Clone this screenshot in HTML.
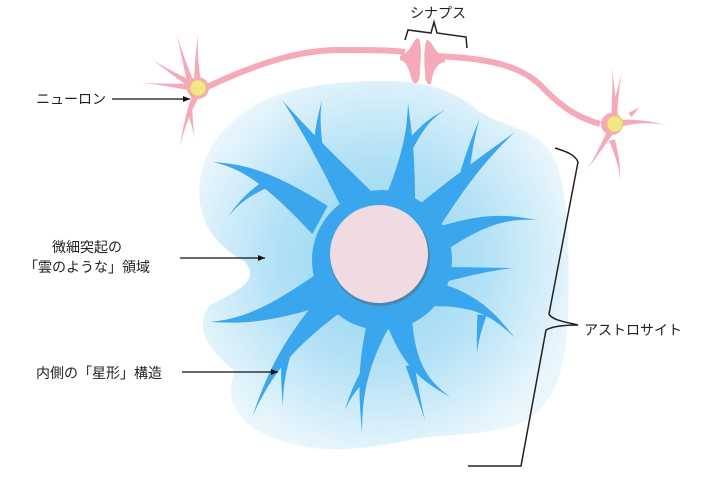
<!DOCTYPE html>
<html><head><meta charset="utf-8"><style>
html,body{margin:0;padding:0;background:#fff;}
svg{display:block;}
text{font-family:"Liberation Sans","Noto Sans CJK JP",sans-serif;font-size:14px;fill:#222;}
</style></head><body>
<svg id="s" width="718" height="479" viewBox="0 0 718 479" xmlns="http://www.w3.org/2000/svg">
<defs>
<radialGradient id="cg" cx="380" cy="260" r="200" gradientUnits="userSpaceOnUse">
<stop offset="0" stop-color="#8fd3f2"/><stop offset="0.55" stop-color="#b5e2f6"/><stop offset="1" stop-color="#e9f6fc"/></radialGradient>
<marker id="ar" markerWidth="8" markerHeight="8" refX="7" refY="4" orient="auto" markerUnits="userSpaceOnUse"><path d="M0,1 L7,4 L0,7 Z" fill="#111"/></marker>
</defs>
<path d="M245,112 C275,88 340,78 410,82 C440,86 460,95 480,112 C510,130 540,128 555,160 C568,190 570,250 568,320 C565,370 555,400 530,418 C495,438 450,432 410,440 C370,448 320,456 280,440 C240,428 222,400 235,372 C210,350 192,330 210,305 C240,290 260,280 245,262 C215,245 195,220 200,180 C205,150 220,130 245,112 Z" fill="url(#cg)"/>
<g id="astro" fill="#3aa6ee"></g>
<circle cx="380" cy="256" r="50" fill="#5a6b78" opacity="0.55"/>
<circle cx="379" cy="254" r="49" fill="#f1dbe3"/>
<g id="neu" fill="#f5a9b9"></g>
<circle cx="198" cy="88" r="8" fill="#f4e58a" stroke="#e8c96a"/>
<circle cx="615" cy="124" r="8" fill="#f4e58a" stroke="#e8c96a"/>
<path d="M405,40 L408,30 L431,33 L434,22 L437,33 L466,37 L467,48" fill="none" stroke="#222" stroke-width="1.5"/>
<text x="410" y="18">シナプス</text>
<path d="M555,148 C568,152 575,155 578,162 L549,314 C552,320 565,322 578,325 C565,325 553,326 546,330 L521,466 L468,466" fill="none" stroke="#222" stroke-width="1.5"/>
<text x="584" y="335">アストロサイト</text>
<text x="36" y="104">ニューロン</text>
<line x1="112" y1="99" x2="190" y2="99" stroke="#111" stroke-width="1.3" marker-end="url(#ar)"/>
<text x="52" y="252">微細突起の</text>
<text x="24" y="272">「雲のような」領域</text>
<line x1="180" y1="258" x2="265" y2="258" stroke="#111" stroke-width="1.3" marker-end="url(#ar)"/>
<text x="36" y="378">内側の「星形」構造</text>
<line x1="182" y1="372" x2="278" y2="372" stroke="#111" stroke-width="1.3" marker-end="url(#ar)"/>
</svg>
<script>
function br(g,a,c,t,w){
 var dx=t[0]-a[0],dy=t[1]-a[1],L=Math.hypot(dx,dy),nx=-dy/L*w/2,ny=dx/L*w/2;
 var m=[(c[0]+t[0])/2,(c[1]+t[1])/2];
 var d="M"+(a[0]+nx)+","+(a[1]+ny)+" C"+(c[0]+nx*0.35)+","+(c[1]+ny*0.35)+" "+(m[0]+nx*0.12)+","+(m[1]+ny*0.12)+" "+t[0]+","+t[1]+" C"+(m[0]-nx*0.12)+","+(m[1]-ny*0.12)+" "+(c[0]-nx*0.35)+","+(c[1]-ny*0.35)+" "+(a[0]-nx)+","+(a[1]-ny)+" Z";
 var p=document.createElementNS("http://www.w3.org/2000/svg","path");p.setAttribute("d",d);g.appendChild(p);}
var A=document.getElementById("astro");
var body=document.createElementNS("http://www.w3.org/2000/svg","ellipse");
body.setAttribute("cx",382);body.setAttribute("cy",260);body.setAttribute("rx",70);body.setAttribute("ry",70);A.appendChild(body);
[[[360,205],[320,150],[282,100],36],[[318,145],[318,120],[322,100],9],
[[400,200],[410,150],[408,103],30],[[410,145],[425,122],[445,110],9],
[[430,215],[470,170],[515,132],30],[[465,172],[472,140],[480,118],9],
[[320,220],[260,170],[213,162],32],[[270,182],[245,195],[228,217],9],
[[440,240],[490,215],[537,220],26],[[440,275],[480,270],[513,268],16],
[[435,295],[480,300],[515,338],26],[[482,315],[478,335],[477,353],9],
[[400,320],[410,370],[450,397],28],[[410,365],[418,395],[425,420],9],
[[380,320],[360,370],[362,433],24],[[364,375],[352,392],[345,410],9],
[[320,290],[260,320],[210,322],32],
[[335,300],[280,350],[252,417],28],[[286,355],[282,380],[283,407],9]
].forEach(function(b){br(A,b[0],b[1],b[2],b[3]);});
var N=document.getElementById("neu");
var ax=document.createElementNS("http://www.w3.org/2000/svg","path");
ax.setAttribute("d","M205,88 C260,62 300,50 340,50 C370,50 390,50 405,52 M437,56 C470,58 520,60 545,90 C565,110 580,118 600,124");
ax.setAttribute("fill","none");ax.setAttribute("stroke","#f5a9b9");ax.setAttribute("stroke-width","6");N.appendChild(ax);
var bulbs=document.createElementNS("http://www.w3.org/2000/svg","path");
bulbs.setAttribute("d","M400,56 C412,52 412,40 418,38 C422,40 421,60 420,70 C420,80 418,84 414,83 C410,80 410,62 400,60 Z M445,58 C435,54 432,40 427,40 C424,44 424,60 425,72 C425,82 428,86 431,84 C433,72 436,63 445,62 Z");
N.appendChild(bulbs);
[[[198,88],[170,72],[153,60],8],[[198,88],[170,85],[143,83],8],[[198,88],[196,60],[198,33],8],[[190,80],[182,55],[177,35],6],
[[198,90],[185,120],[180,147],8],[[190,110],[192,125],[195,137],5],
[[615,124],[614,95],[612,68],8],[[615,110],[618,90],[622,72],5],[[615,124],[640,120],[665,125],8],[[630,115],[636,110],[640,107],5],
[[615,124],[600,150],[587,170],8],[[612,140],[620,165],[620,180],6]
].forEach(function(b){br(N,b[0],b[1],b[2],b[3]);});
[[198,88,11],[612,124,11]].forEach(function(c){var e=document.createElementNS("http://www.w3.org/2000/svg","circle");e.setAttribute("cx",c[0]);e.setAttribute("cy",c[1]);e.setAttribute("r",c[2]);N.appendChild(e);});
</script>
</body></html>
